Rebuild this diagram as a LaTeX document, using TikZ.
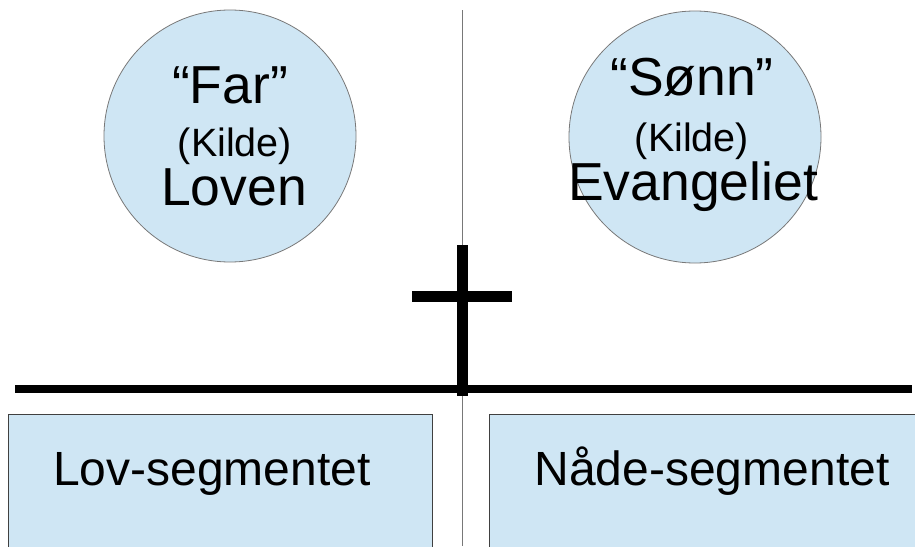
\documentclass[tikz,border=0pt]{standalone}
\usepackage{fontspec}
\setmainfont{Liberation Sans}
\definecolor{lightblue}{RGB}{207,230,244}
\definecolor{rimgray}{RGB}{120,120,120}
\begin{document}
\begin{tikzpicture}[x=1pt,y=-1pt,
  source/.style={circle,fill=lightblue,draw=rimgray,line width=0.8pt,minimum size=252pt,inner sep=0pt},
  segment/.style={rectangle,fill=lightblue,draw=black!75,line width=0.8pt,anchor=north west},
  big/.style={font=\fontsize{53.5}{53.5}\selectfont},
  mid/.style={font=\fontsize{39.5}{39.5}\selectfont},
  segtext/.style={font=\fontsize{48}{48}\selectfont,anchor=base}]
\useasboundingbox (0,0) rectangle (915,546);
% boxes
\node[segment,minimum width=424pt,minimum height=140pt] (lovbox) at (8,414) {};
\node[segment,minimum width=430pt,minimum height=140pt] (nadebox) at (489,414) {};
\node[segtext] (lovtxt) at (212,485) {Lov-segmentet};
\node[segtext] (nadetxt) at (712,485) {Nåde-segmentet};
% circles
\node[source] (far) at (230,136) {};
\node[source] (sonn) at (695,137) {};
\node[big,anchor=base] (fartxt) at (230,103) {“Far”};
\node[mid,anchor=base] (farkilde) at (235,156) {(Kilde)};
\node[big,anchor=base] (loven) at (234,205) {Loven};
\node[big,anchor=base] (sonntxt) at (692,95) {“Sønn”};
\node[mid,anchor=base] (sonnkilde) at (692,151) {(Kilde)};
\node[big,anchor=base] (evang) at (693,200) {Evangeliet};
% thin divider
\coordinate (vtop) at (462,10);
\coordinate (vbot) at (462,546);
\draw[rimgray,line width=0.9pt] (vtop) -- (vbot);
% ground line
\coordinate (gl) at (15,389);
\coordinate (gr) at (912,389);
\draw[black,line width=8pt] (gl) -- (gr);
% cross
\coordinate (ct) at (462.5,245);
\coordinate (cb) at (462.5,396);
\coordinate (cl) at (412,296.5);
\coordinate (cr) at (512,296.5);
\draw[black,line width=11pt] (ct) -- (cb);
\draw[black,line width=11pt] (cl) -- (cr);
\end{tikzpicture}
\end{document}
